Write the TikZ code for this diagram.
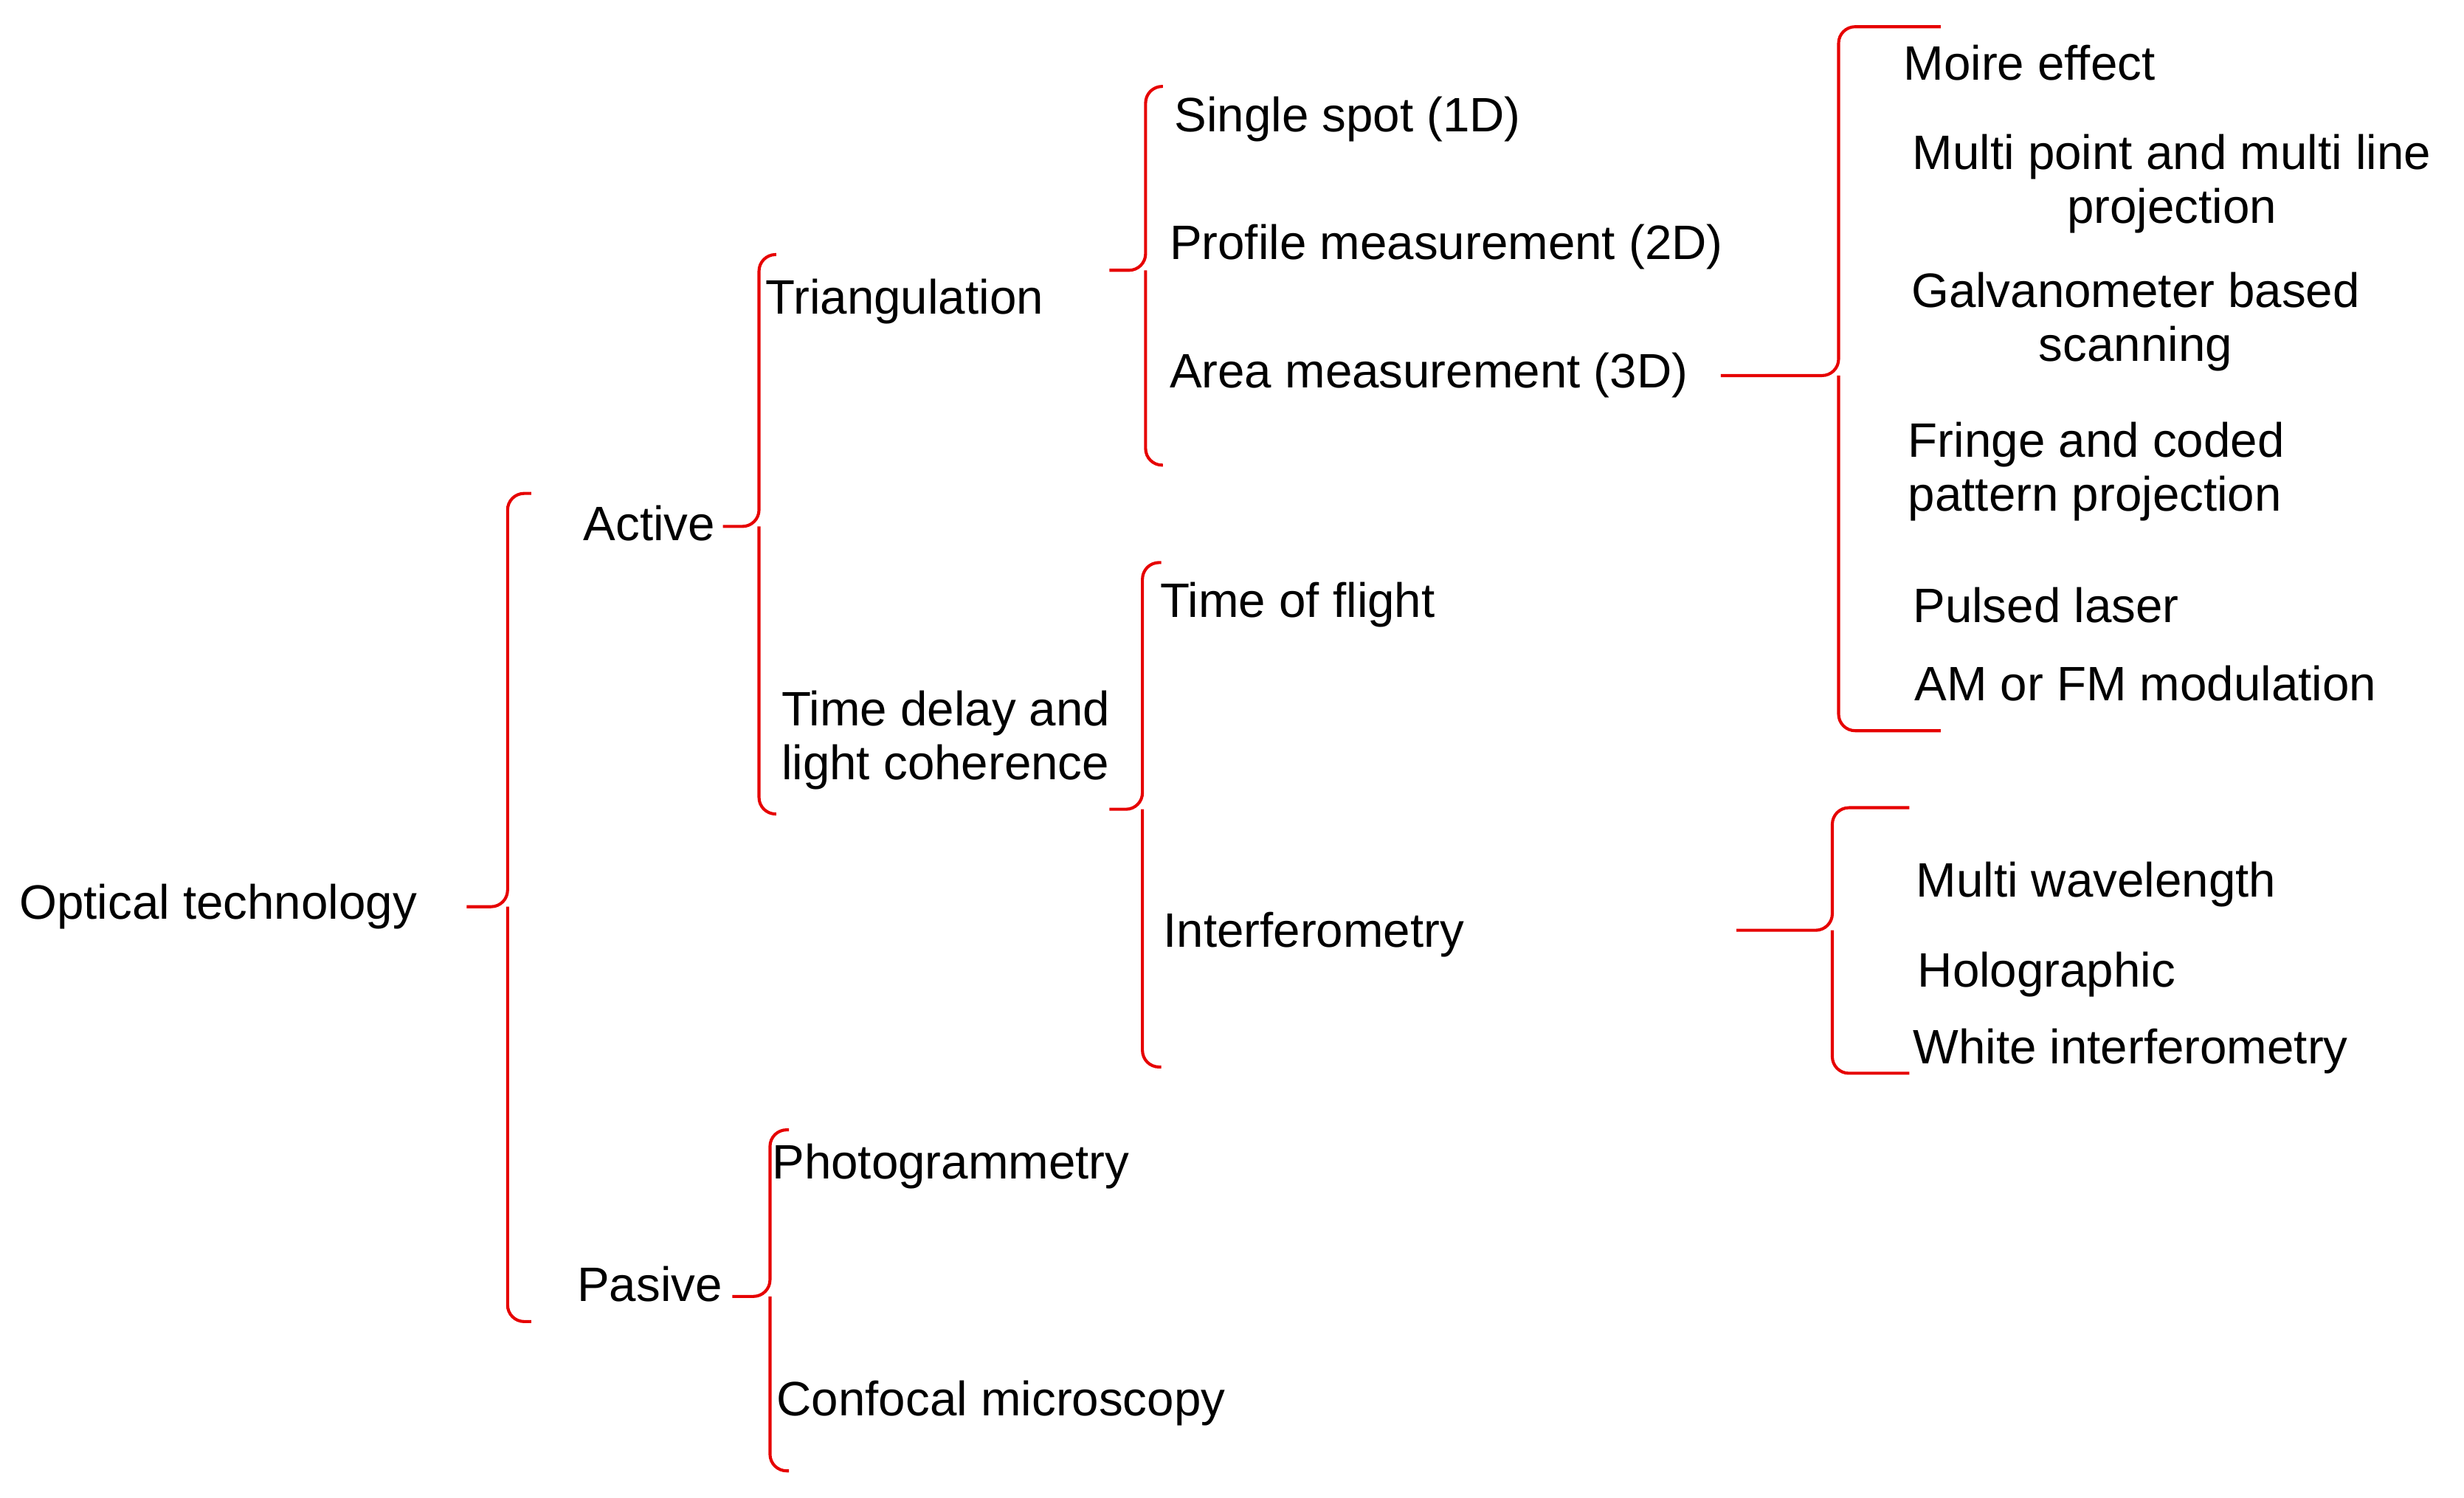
\documentclass[tikz,border=0pt]{standalone}
\usepackage{fontspec}
\setmainfont{Liberation Sans}
\begin{document}
\begin{tikzpicture}[x=0.02cm,y=-0.02cm,
  t/.style={anchor=west,inner sep=0pt,font=\fontsize{17.5}{19.5}\selectfont,align=left},
  tc/.style={inner sep=0pt,font=\fontsize{17.5}{19.5}\selectfont,align=center},
  br/.style={draw={rgb,255:red,230;green,0;blue,0},line width=1.1pt,rounded corners=6pt}]
\useasboundingbox (0,0) rectangle (1568,953);
\newcommand{\mybrace}[6]{% x, top, bottom, mid, tickleft, hookright
  \draw[br] (#6,#2) -- (#1,#2) -- (#1,#4) -- (#5,#4);
  \draw[br] (#6,#3) -- (#1,#3) -- (#1,#4);}
\mybrace{323}{314}{841}{577}{297}{338}
\mybrace{483}{162}{518}{335}{460}{494}
\mybrace{490}{719}{936}{825}{466}{502}
\mybrace{729}{55}{296}{172}{706}{740}
\mybrace{727}{358}{679}{515}{706}{739}
\mybrace{1170}{17}{465}{239}{1095}{1235}
\mybrace{1166}{514}{683}{592}{1105}{1215}
\node[t] (opt) at (12,577) {Optical technology};
\node[t] (act) at (371,333) {Active};
\node[t] (pas) at (367,817) {Pasive};
\node[t] (tri) at (487,192) {Triangulation};
\node[t] (tdl) at (497,471) {Time delay and\\light coherence};
\node[t] (pho) at (491,742) {Photogrammetry};
\node[t] (con) at (494,893) {Confocal microscopy};
\node[t] (ss) at (747,76) {Single spot (1D)};
\node[t] (pm) at (744,157) {Profile measurement (2D)};
\node[t] (am) at (744,239) {Area measurement (3D)};
\node[t] (tof) at (738,385) {Time of flight};
\node[t] (int) at (740,595) {Interferometry};
\node[t] (moi) at (1211,40) {Moire effect};
\node[tc] (mp) at (1382,117) {Multi point and multi line\\projection};
\node[tc] (gal) at (1359,205) {Galvanometer based\\scanning};
\node[t] (fr) at (1214,300) {Fringe and coded\\pattern projection};
\node[t] (pl) at (1217,385) {Pulsed laser};
\node[t] (amfm) at (1218,435) {AM or FM modulation};
\node[t] (mw) at (1219,563) {Multi wavelength};
\node[t] (hol) at (1220,620) {Holographic};
\node[t] (wi) at (1217,669) {White interferometry};
\end{tikzpicture}
\end{document}
